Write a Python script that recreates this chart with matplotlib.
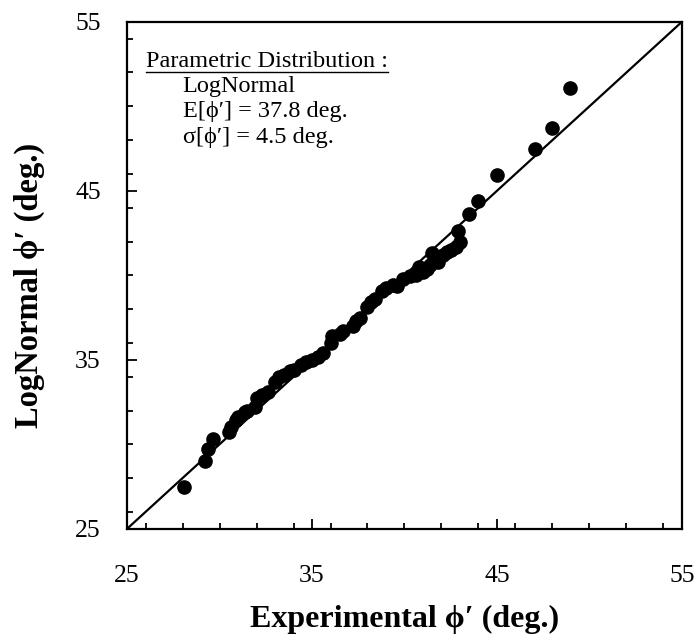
import matplotlib
matplotlib.use('Agg')
import matplotlib.pyplot as plt
from matplotlib.ticker import MultipleLocator

plt.rc('font', family=['Liberation Serif', 'DejaVu Serif'])

# experimental vs. lognormal quantiles (deg.)
experimental = [28.1, 29.2, 29.4, 29.65, 30.5, 30.6, 30.9, 31.0, 31.4, 31.5,
                31.9, 32.0, 32.3, 32.6, 33.0, 33.2, 33.5, 33.8, 34.0, 34.4,
                34.7, 35.0, 35.3, 35.6, 36.0, 36.1, 36.5, 36.7, 37.2, 37.4,
                37.6, 38.0, 38.2, 38.4, 38.8, 39.0, 39.4, 39.6, 39.9, 40.3,
                40.6, 40.8, 41.0, 41.2, 41.5, 41.4, 41.8, 42.1, 42.3, 42.5,
                42.8, 43.0, 42.9, 43.5, 44.0, 45.0, 47.05, 47.98, 48.95]
lognormal = [27.5, 29.0, 29.7, 30.3, 30.7, 31.0, 31.45, 31.6, 31.9, 32.0,
             32.2, 32.75, 32.9, 33.1, 33.7, 34.0, 34.1, 34.35, 34.4, 34.7,
             34.85, 35.0, 35.15, 35.4, 36.0, 36.4, 36.5, 36.7, 37.0, 37.3,
             37.5, 38.1, 38.4, 38.6, 39.1, 39.25, 39.4, 39.35, 39.8, 39.95,
             40.0, 40.5, 40.2, 40.4, 41.3, 40.6, 40.8, 41.2, 41.4, 41.5,
             41.7, 42.0, 42.6, 43.6, 44.4, 45.95, 47.5, 48.7, 51.1]

ticks = [25, 35, 45, 55]
info_title = 'Parametric Distribution :'
info_lines = ['LogNormal', 'E[\u03d5\u2032] = 37.8 deg.', '\u03c3[\u03d5\u2032] = 4.5 deg.']

fig = plt.figure(figsize=(6.98, 6.41), dpi=100)
ax = fig.add_axes([0.182, 0.175, 0.795, 0.791])

ax.plot([25, 55], [25, 55], color='black', lw=1.6, zorder=2)
ax.plot(experimental, lognormal, 'o', color='black', ms=9.5, zorder=3)

ax.set_xlim(25, 55)
ax.set_ylim(25, 55)
ax.set_xticks(ticks)
ax.set_yticks(ticks)
ax.xaxis.set_minor_locator(MultipleLocator(2))
ax.yaxis.set_minor_locator(MultipleLocator(2))
ax.tick_params(which='both', direction='in', color='black', width=1.3)
ax.tick_params(which='major', length=7, labelsize=18.5)
ax.tick_params(which='minor', length=4)
ax.tick_params(axis='x', which='major', pad=26)
ax.tick_params(axis='y', which='major', pad=19)
for s in ax.spines.values():
    s.set_linewidth(1.6)

ax.set_xlabel('Experimental \u03d5\u2032 (deg.)', fontsize=23, fontweight='bold', labelpad=13)
ax.set_ylabel('LogNormal \u03d5\u2032 (deg.)', fontsize=23.5, fontweight='bold')
ax.yaxis.set_label_coords(-0.148, 0.48)

t = ax.text(26.0, 52.3, info_title, fontsize=17.5, va='baseline', ha='left')
for i, line in enumerate(info_lines):
    ax.text(28.0, 50.85 - i * 1.5, line, fontsize=17.5, va='baseline', ha='left')

# underline the heading
fig.canvas.draw()
bb = t.get_window_extent().transformed(ax.transData.inverted())
ax.plot([bb.x0, bb.x1], [52.05, 52.05], color='black', lw=1.0)

fig.savefig('out.png', dpi=100)
